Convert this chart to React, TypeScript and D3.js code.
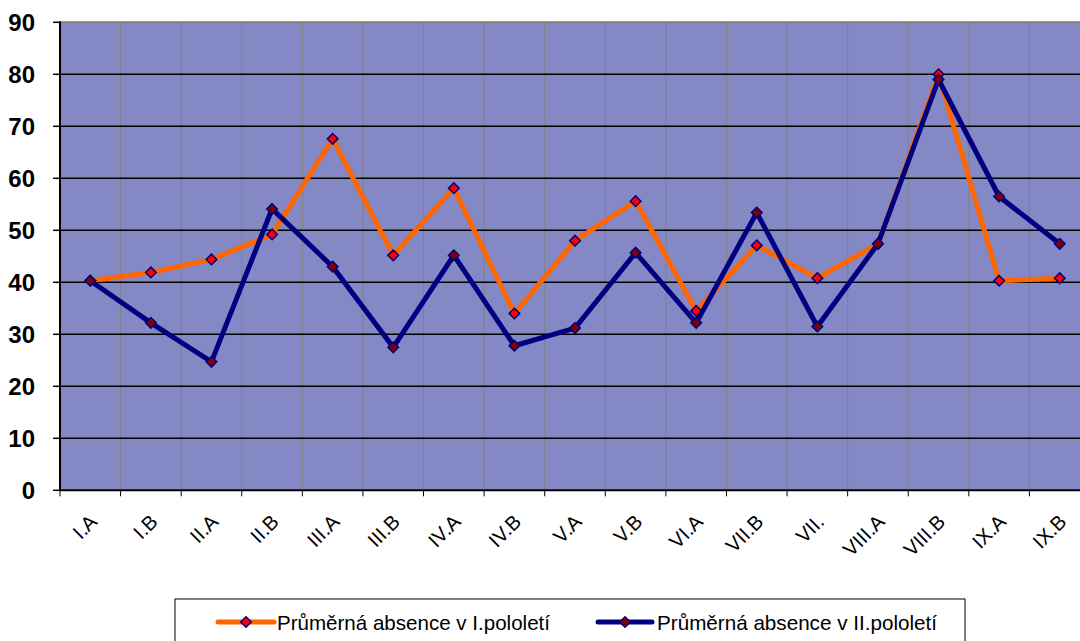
import React, { useEffect, useRef } from "react";
import * as d3 from "d3";

const categories = [
  "I.A", "I.B", "II.A", "II.B", "III.A", "III.B", "IV.A", "IV.B", "V.A",
  "V.B", "VI.A", "VII.B", "VII.", "VIII.A", "VIII.B", "IX.A", "IX.B",
];
const firstHalf = [40.3, 41.9, 44.4, 49.2, 67.6, 45.2, 58.1, 34.0, 48.0, 55.6, 34.5, 47.1, 40.8, 47.4, 80.0, 40.3, 40.8];
const secondHalf = [40.3, 32.2, 24.7, 54.1, 43.0, 27.5, 45.2, 27.8, 31.2, 45.7, 32.2, 53.4, 31.5, 47.4, 79.0, 56.5, 47.4];
const yTicks = [0, 10, 20, 30, 40, 50, 60, 70, 80, 90];
const seriesNames = ["Průměrná absence v I.pololetí", "Průměrná absence v II.pololetí"];

const W = 1080;
const H = 641;
const FONT = "Arial, 'Liberation Sans', sans-serif";

const App = () => {
  const ref = useRef<SVGSVGElement>(null);

  useEffect(() => {
    const svg = d3.select(ref.current);
    svg.selectAll("*").remove();

    const plot = { left: 60, right: 1090, top: 22.3, bottom: 490.3 };

    const x = d3.scaleBand()
      .domain(categories)
      .range([plot.left, plot.right])
      .padding(0);
    const y = d3.scaleLinear().domain([0, 90]).range([plot.bottom, plot.top]);
    const cx = (c: string) => x(c)! + x.bandwidth() / 2;

    // plot background
    svg.append("rect")
      .attr("x", plot.left).attr("y", plot.top)
      .attr("width", plot.right - plot.left).attr("height", plot.bottom - plot.top)
      .attr("fill", "#8488c5");

    // vertical grid at category boundaries
    const bounds = categories.map(c => x(c)!).slice(1);
    svg.append("g")
      .selectAll("line")
      .data(bounds)
      .enter().append("line")
      .attr("x1", d => d).attr("x2", d => d)
      .attr("y1", plot.top).attr("y2", plot.bottom)
      .attr("stroke", "#808080").attr("stroke-width", 1);

    // horizontal grid
    svg.append("g")
      .selectAll("line")
      .data(yTicks.slice(1, -1))
      .enter().append("line")
      .attr("x1", plot.left).attr("x2", plot.right)
      .attr("y1", d => y(d)).attr("y2", d => y(d))
      .attr("stroke", "#000").attr("stroke-width", 1.5);

    // top border
    svg.append("line")
      .attr("x1", plot.left).attr("x2", plot.right)
      .attr("y1", plot.top).attr("y2", plot.top)
      .attr("stroke", "#808080").attr("stroke-width", 2);

    // y axis
    const yAxis = svg.append("g");
    yAxis.append("line")
      .attr("x1", plot.left).attr("x2", plot.left)
      .attr("y1", plot.top - 1).attr("y2", plot.bottom)
      .attr("stroke", "#000").attr("stroke-width", 2);
    yAxis.selectAll("line.tick")
      .data(yTicks)
      .enter().append("line")
      .attr("class", "tick")
      .attr("x1", 53).attr("x2", plot.left)
      .attr("y1", d => y(d)).attr("y2", d => y(d))
      .attr("stroke", "#000").attr("stroke-width", 1.5);
    yAxis.selectAll("text")
      .data(yTicks)
      .enter().append("text")
      .attr("x", 35).attr("y", d => y(d))
      .attr("dy", "0.36em")
      .attr("text-anchor", "end")
      .style("font-family", FONT)
      .style("font-weight", "bold")
      .style("font-size", "24px")
      .text(d => d);

    // x axis
    const xAxis = svg.append("g");
    xAxis.append("line")
      .attr("x1", plot.left).attr("x2", plot.right)
      .attr("y1", plot.bottom).attr("y2", plot.bottom)
      .attr("stroke", "#000").attr("stroke-width", 2);
    xAxis.selectAll("line.tick")
      .data([plot.left, ...bounds])
      .enter().append("line")
      .attr("class", "tick")
      .attr("x1", d => d).attr("x2", d => d)
      .attr("y1", plot.bottom).attr("y2", plot.bottom + 6)
      .attr("stroke", "#000").attr("stroke-width", 1);
    xAxis.selectAll("text")
      .data(categories)
      .enter().append("text")
      .attr("transform", d => `translate(${cx(d) + 8},${523}) rotate(-45)`)
      .attr("text-anchor", "end")
      .style("font-family", FONT)
      .style("font-size", "20px")
      .text(d => d);

    const line = d3.line<number>()
      .x((_, i) => cx(categories[i]))
      .y(d => y(d));

    const diamond = d3.symbol().type(d3.symbolDiamond2).size(72);

    const series = [
      { values: firstHalf, color: "#ff6600", marker: "#ff0000" },
      { values: secondHalf, color: "#000080", marker: "#800000" },
    ];

    series.forEach(s => {
      svg.append("path")
        .datum(s.values)
        .attr("d", line)
        .attr("fill", "none")
        .attr("stroke", s.color)
        .attr("stroke-width", 5)
        .attr("stroke-linejoin", "miter");
      svg.append("g")
        .selectAll("path")
        .data(s.values)
        .enter().append("path")
        .attr("d", diamond)
        .attr("transform", (d, i) => `translate(${cx(categories[i])},${y(d)})`)
        .attr("fill", s.marker)
        .attr("stroke", "#000080")
        .attr("stroke-width", 1.5);
    });

    // legend
    const legend = svg.append("g");
    legend.append("rect")
      .attr("x", 175).attr("y", 599)
      .attr("width", 790).attr("height", 60)
      .attr("fill", "#fff")
      .attr("stroke", "#000").attr("stroke-width", 1);

    const legendItems = [
      { x0: 218, x1: 274, tx: 277, tw: 273 },
      { x0: 598, x1: 652, tx: 657, tw: 280 },
    ];
    legendItems.forEach((it, i) => {
      legend.append("line")
        .attr("x1", it.x0).attr("x2", it.x1)
        .attr("y1", 622).attr("y2", 622)
        .attr("stroke", series[i].color).attr("stroke-width", 5)
        .attr("stroke-linecap", "round");
      legend.append("path")
        .attr("d", diamond)
        .attr("transform", `translate(${(it.x0 + it.x1) / 2},622)`)
        .attr("fill", series[i].marker)
        .attr("stroke", "#000080")
        .attr("stroke-width", 1.5);
      legend.append("text")
        .attr("x", it.tx).attr("y", 630)
        .attr("textLength", it.tw)
        .attr("lengthAdjust", "spacingAndGlyphs")
        .style("font-family", FONT)
        .style("font-size", "21px")
        .text(seriesNames[i]);
    });
  }, []);

  return (
    <svg
      ref={ref}
      width={W}
      height={H}
      style={{ position: "absolute", left: 0, top: 0, display: "block", background: "#fff" }}
    ></svg>
  );
};

export default App;
